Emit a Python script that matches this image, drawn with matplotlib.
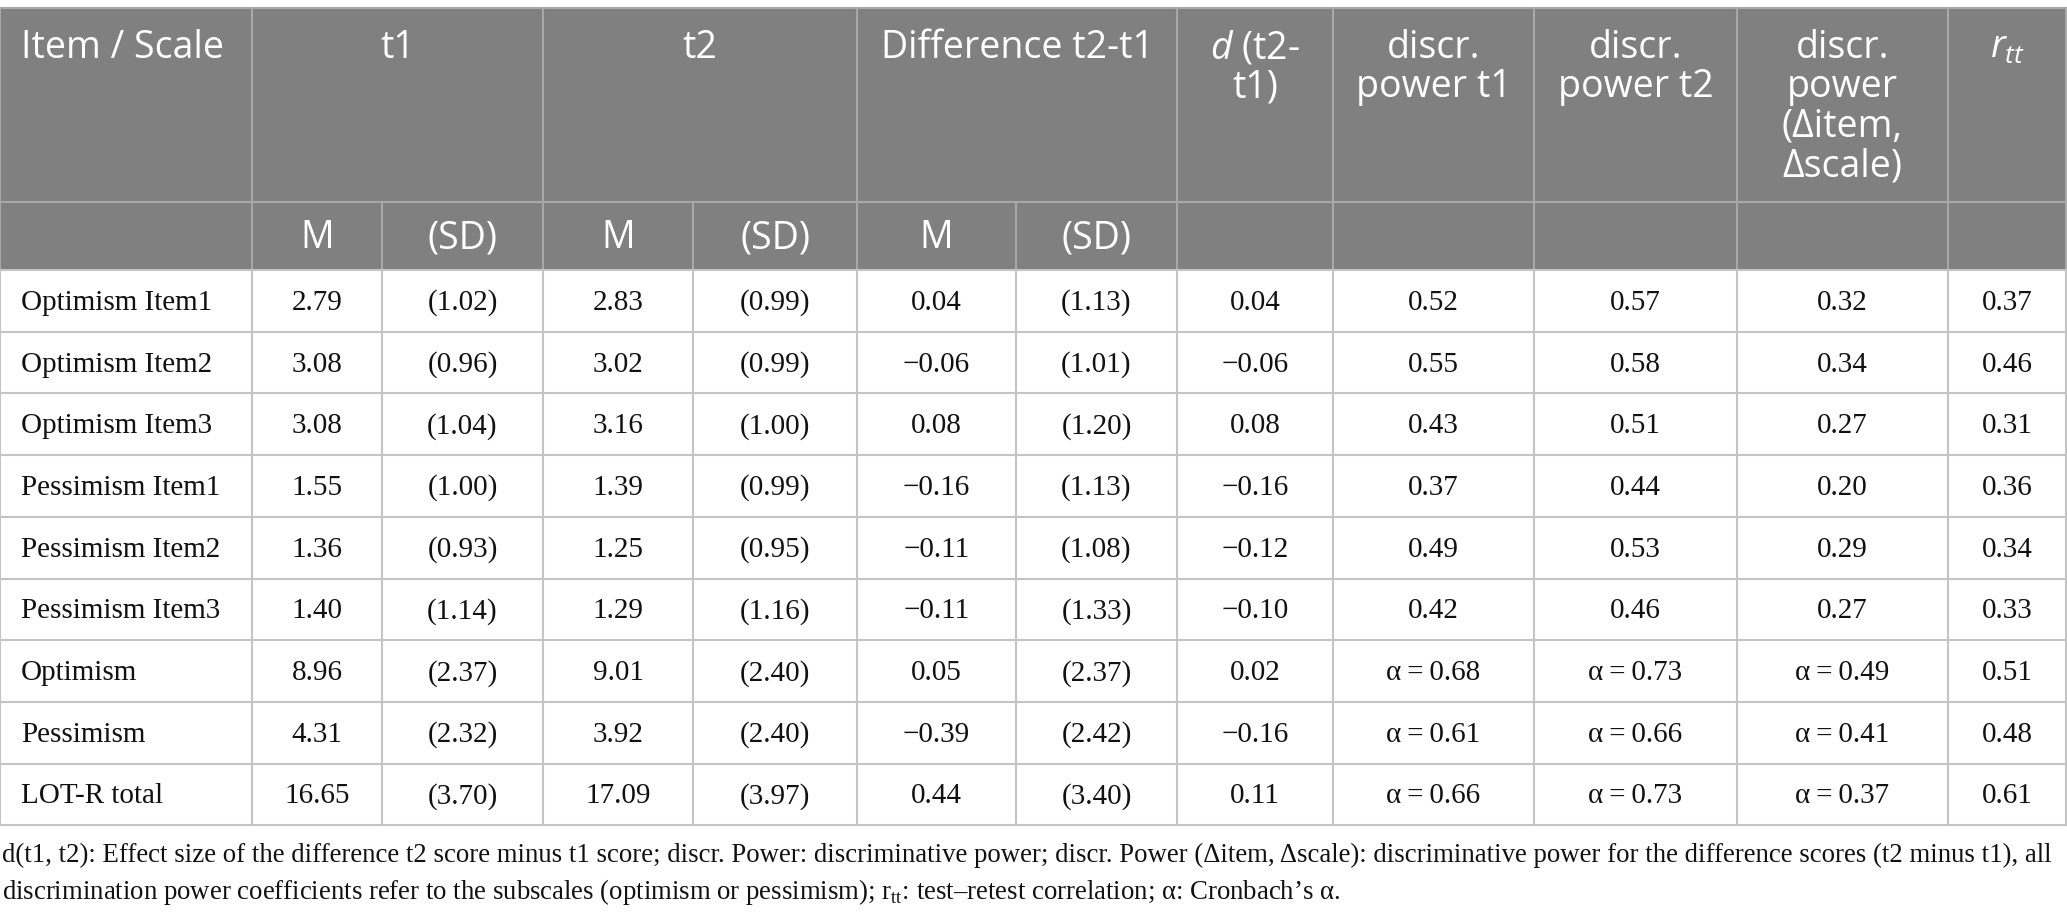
import matplotlib.pyplot as plt
from matplotlib.patches import Rectangle

plt.rcParams['mathtext.fontset'] = 'custom'
plt.rcParams['mathtext.rm'] = 'Liberation Serif'
plt.rcParams['mathtext.it'] = 'Open Sans:italic'

# Data
labels = ["Optimism Item1", "Optimism Item2", "Optimism Item3",
          "Pessimism Item1", "Pessimism Item2", "Pessimism Item3",
          "Optimism", "Pessimism", "LOT-R total"]
t1_m = [2.79, 3.08, 3.08, 1.55, 1.36, 1.40, 8.96, 4.31, 16.65]
t1_sd = [1.02, 0.96, 1.04, 1.00, 0.93, 1.14, 2.37, 2.32, 3.70]
t2_m = [2.83, 3.02, 3.16, 1.39, 1.25, 1.29, 9.01, 3.92, 17.09]
t2_sd = [0.99, 0.99, 1.00, 0.99, 0.95, 1.16, 2.40, 2.40, 3.97]
diff_m = [0.04, -0.06, 0.08, -0.16, -0.11, -0.11, 0.05, -0.39, 0.44]
diff_sd = [1.13, 1.01, 1.20, 1.13, 1.08, 1.33, 2.37, 2.42, 3.40]
effect_d = [0.04, -0.06, 0.08, -0.16, -0.12, -0.10, 0.02, -0.16, 0.11]
dp_t1 = [0.52, 0.55, 0.43, 0.37, 0.49, 0.42, 0.68, 0.61, 0.66]
dp_t2 = [0.57, 0.58, 0.51, 0.44, 0.53, 0.46, 0.73, 0.66, 0.73]
dp_delta = [0.32, 0.34, 0.27, 0.20, 0.29, 0.27, 0.49, 0.41, 0.37]
r_tt = [0.37, 0.46, 0.31, 0.36, 0.34, 0.33, 0.51, 0.48, 0.61]
is_scale = [False] * 6 + [True] * 3

header_top = [("t1", 1, 3), ("t2", 3, 5), ("Difference t2-t1", 5, 7),
              ("$d$ (t2-\nt1)", 7, 8), ("discr.\npower t1", 8, 9),
              ("discr.\npower t2", 9, 10),
              ("discr.\npower\n(\u0394item,\n\u0394scale)", 10, 11),
              ("$r_{tt}$", 11, 12)]
header_sub = ["M", "(SD)", "M", "(SD)", "M", "(SD)"]

footnote = ["d(t1, t2): Effect size of the difference t2 score minus t1 score; discr. Power: "
            "discriminative power; discr. Power (\u0394item, \u0394scale): discriminative power "
            "for the difference scores (t2 minus t1), all",
            "discrimination power coefficients refer to the subscales (optimism or pessimism); "
            "r$_{\\mathrm{tt}}$: test\u2013retest correlation; \u03b1: Cronbach\u2019s \u03b1."]

# Layout (pixels)
W, H = 2067, 923
cols = [0, 252, 382, 543, 693, 857, 1016, 1177, 1333, 1534, 1737, 1948, 2066]
y_top, y_h1, y_h2 = 8, 202, 270
row_h = 61.7
n = len(labels)
y_bot = y_h2 + n * row_h

head_bg = '#808080'
head_line = '#a8a8a8'
body_line = '#c4c4c4'
sans = 'Open Sans'
serif = 'Liberation Serif'
head_fs, body_fs, note_fs = 27, 21, 19.3


def fmt(v, alpha=False):
    s = f"{v:.2f}".replace("-", "\u2212")
    return "\u03b1\u2009=\u2009" + s if alpha else s


fig = plt.figure(figsize=(W / 100, H / 100), dpi=100)
ax = fig.add_axes([0, 0, 1, 1])
ax.set_xlim(0, W)
ax.set_ylim(H, 0)
ax.axis('off')

# header background
ax.add_patch(Rectangle((0, y_top), cols[-1], y_h2 - y_top, color=head_bg, lw=0))

# header lines
ax.plot([0, cols[-1]], [y_top, y_top], color=head_line, lw=1.5)
ax.plot([0, cols[-1]], [y_h1, y_h1], color=head_line, lw=1.5)
for i, x in enumerate(cols):
    if i in (2, 4, 6):
        ax.plot([x, x], [y_h1, y_h2], color=head_line, lw=1.5)
    else:
        ax.plot([x, x], [y_top, y_h2], color=head_line, lw=1.5)

# body lines
for r in range(n + 1):
    y = y_h2 + r * row_h
    ax.plot([0, cols[-1]], [y, y], color=body_line, lw=1.5)
for x in cols:
    ax.plot([x, x], [y_h2, y_bot], color=body_line, lw=1.5)

# header text
ax.text(21, 48, "Item / Scale", color='white', fontsize=head_fs, family=sans,
        ha='left', va='center')
for txt, c0, c1 in header_top:
    xc = (cols[c0] + cols[c1]) / 2
    for k, line in enumerate(txt.split("\n")):
        ax.text(xc, 48 + k * 39.5, line, color='white', fontsize=head_fs, family=sans,
                ha='center', va='center')
for j, txt in enumerate(header_sub):
    xc = (cols[j + 1] + cols[j + 2]) / 2
    ax.text(xc, (y_h1 + y_h2) / 2 + 2, txt, color='white', fontsize=head_fs, family=sans,
            ha='center', va='center')

# body text
for r in range(n):
    yc = y_h2 + (r + 0.5) * row_h + 2
    ax.text(21, yc, labels[r], fontsize=body_fs, family=serif, ha='left', va='center',
            color='#111111')
    cells = [fmt(t1_m[r]), "(" + fmt(t1_sd[r]) + ")", fmt(t2_m[r]),
             "(" + fmt(t2_sd[r]) + ")", fmt(diff_m[r]), "(" + fmt(diff_sd[r]) + ")",
             fmt(effect_d[r]), fmt(dp_t1[r], is_scale[r]), fmt(dp_t2[r], is_scale[r]),
             fmt(dp_delta[r], is_scale[r]), fmt(r_tt[r])]
    for j, s in enumerate(cells):
        xc = (cols[j + 1] + cols[j + 2]) / 2
        ax.text(xc, yc, s, fontsize=body_fs, family=serif, ha='center', va='center',
                color='#111111')

# footnote
for k, line in enumerate(footnote):
    ax.text(2, 855 + k * 37, line, fontsize=note_fs, family=serif, ha='left',
            va='center', color='#111111')

fig.savefig('out.png', dpi=100)
